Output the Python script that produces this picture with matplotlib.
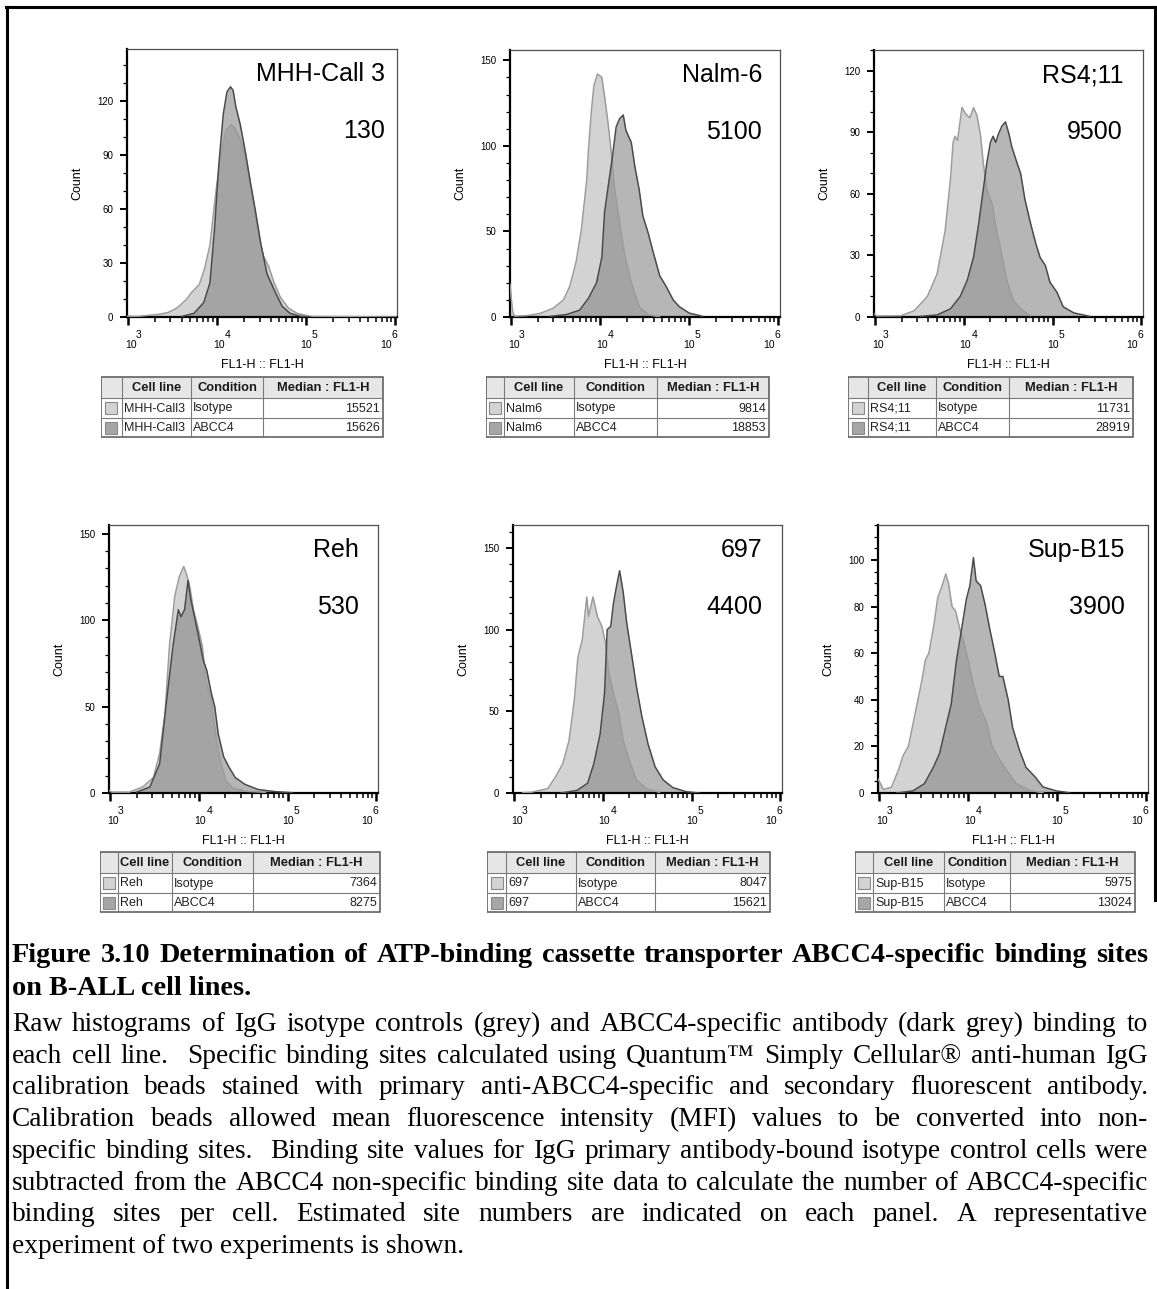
import numpy as np
import matplotlib
matplotlib.use("Agg")
import matplotlib.pyplot as plt
from matplotlib.lines import Line2D
from matplotlib.patches import Rectangle
from matplotlib.transforms import offset_copy
from matplotlib.ticker import FixedLocator, LogLocator, MultipleLocator, NullFormatter

W, H = 1157, 1289
plt.rcParams['font.family'] = ['Liberation Sans', 'DejaVu Sans']

# cell lines, estimated site numbers and FlowJo medians
cell_lines = ["MHH-Call 3", "Nalm-6", "RS4;11", "Reh", "697", "Sup-B15"]
site_numbers = ["130", "5100", "9500", "530", "4400", "3900"]
table_names = ["MHH-Call3", "Nalm6", "RS4;11", "Reh", "697", "Sup-B15"]
median_isotype = [15521, 9814, 11731, 7364, 8047, 5975]
median_abcc4 = [15626, 18853, 28919, 8275, 15621, 13024]
count_ticks = [[0, 30, 60, 90, 120], [0, 50, 100, 150], [0, 30, 60, 90, 120],
               [0, 50, 100, 150], [0, 50, 100, 150], [0, 20, 40, 60, 80, 100]]
count_max = [149, 156, 130, 155, 164, 115]
decades = [3, 4, 5, 6]

# histograms: log10(FL1-H) and counts, isotype then ABCC4
mhh_iso_log = [2.99, 3.10, 3.25, 3.35, 3.45, 3.55, 3.66, 3.72, 3.80, 3.86, 3.92, 3.96, 4.00, 4.05, 4.10, 4.16,
               4.20, 4.25, 4.30, 4.35, 4.41, 4.47, 4.52, 4.58, 4.64, 4.71, 4.80, 4.90, 5.05, 6.02]
mhh_iso_cnt = [0.5, 0.3, 1.0, 1.5, 2.5, 5, 10, 14, 18, 27, 40, 58, 75, 92, 104, 107,
               105, 100, 92, 80, 63, 44, 34, 28, 19, 11, 5, 2, 0.3, 0]
mhh_abc_log = [3.60, 3.74, 3.85, 3.92, 3.97, 4.02, 4.07, 4.11, 4.15, 4.18, 4.21, 4.26, 4.32, 4.37, 4.43,
               4.49, 4.56, 4.66, 4.73, 4.82, 4.94, 5.05]
mhh_abc_cnt = [0.3, 2, 8, 19, 48, 85, 113, 125, 128, 126, 117, 107, 91, 76, 59,
               41, 24, 13, 6, 2, 0.4, 0]

nalm_iso_log = [2.99, 3.005, 3.02, 3.04, 3.18, 3.32, 3.47, 3.59, 3.66, 3.73, 3.79, 3.85, 3.87, 3.90, 3.93,
                3.97, 4.02, 4.05, 4.09, 4.13, 4.16, 4.22, 4.28, 4.35, 4.44, 4.54, 4.67]
nalm_iso_cnt = [19, 10, 3, 0.5, 0.8, 2, 5, 10, 18, 32, 51, 80, 98, 119, 135,
                142, 140, 129, 113, 94, 76, 55, 35, 20, 6, 1.4, 0]
nalm_abc_log = [3.44, 3.62, 3.77, 3.87, 3.96, 4.02, 4.05, 4.09, 4.14, 4.18, 4.22, 4.26, 4.29, 4.35, 4.39,
                4.44, 4.48, 4.54, 4.59, 4.67, 4.74, 4.82, 4.89, 5.00, 5.15]
nalm_abc_cnt = [0.4, 1.4, 4, 11, 20, 35, 61, 76, 94, 111, 116, 118, 109, 102, 88,
                74, 59, 49, 39, 24, 18, 10, 6, 2.3, 0.4]

rs4_iso_log = [2.99, 3.02, 3.29, 3.44, 3.59, 3.70, 3.79, 3.85, 3.88, 3.90, 3.93, 3.98, 4.02, 4.07, 4.11,
               4.15, 4.19, 4.22, 4.26, 4.32, 4.37, 4.43, 4.49, 4.56, 4.64, 4.75]
rs4_iso_cnt = [1.5, 0.5, 0.6, 3, 10, 21, 42, 67, 85, 88, 86, 102, 99, 97, 102,
               98, 88, 75, 62, 55, 42, 30, 17, 8, 4, 0.6]
rs4_abc_log = [3.51, 3.70, 3.85, 3.96, 4.04, 4.11, 4.17, 4.22, 4.26, 4.30, 4.33, 4.36, 4.39, 4.43, 4.47,
               4.51, 4.54, 4.60, 4.64, 4.69, 4.75, 4.81, 4.86, 4.92, 4.97, 5.05, 5.12, 5.24, 5.42]
rs4_abc_cnt = [0.3, 1, 4, 10, 18, 29, 46, 62, 75, 85, 88, 85, 89, 93, 95,
               89, 83, 75, 70, 57, 46, 36, 29, 25, 17, 12, 5, 2, 0.3]

reh_iso_log = [2.99, 3.02, 3.22, 3.37, 3.49, 3.56, 3.62, 3.67, 3.73, 3.78, 3.83, 3.86, 3.90, 3.94, 3.99,
               4.04, 4.08, 4.14, 4.19, 4.25, 4.31, 4.38, 4.53, 4.75]
reh_iso_cnt = [1.5, 0.5, 0.5, 3.5, 9, 23, 46, 85, 114, 125, 131, 127, 119, 106, 96,
               85, 65, 54, 34, 17, 7, 3, 1, 0.4]
reh_abc_log = [3.30, 3.45, 3.56, 3.63, 3.71, 3.77, 3.80, 3.84, 3.88, 3.91, 3.96, 4.00, 4.05, 4.09, 4.14,
               4.18, 4.22, 4.28, 4.34, 4.41, 4.52, 4.67, 4.86, 5.05]
reh_abc_cnt = [0.5, 3.5, 17, 50, 85, 106, 102, 106, 123, 112, 100, 90, 77, 71, 58,
               50, 34, 21, 15, 9, 5, 2, 0.8, 0.2]

c697_iso_log = [3.10, 3.19, 3.38, 3.47, 3.55, 3.62, 3.68, 3.72, 3.77, 3.82, 3.84, 3.89, 3.94, 3.99, 4.03,
                4.07, 4.12, 4.18, 4.23, 4.31, 4.38, 4.49, 4.64]
c697_iso_cnt = [0.2, 0.4, 2.7, 10, 18, 32, 57, 83, 94, 120, 108, 120, 108, 102, 92,
                73, 61, 49, 32, 18, 8, 2.7, 0.4]
c697_abc_log = [3.53, 3.71, 3.83, 3.90, 3.97, 4.02, 4.05, 4.09, 4.12, 4.16, 4.19, 4.23, 4.27, 4.33, 4.38,
                4.44, 4.51, 4.59, 4.68, 4.79, 4.94, 5.09]
c697_abc_cnt = [0, 1.6, 6, 18, 36, 61, 100, 102, 116, 128, 136, 123, 104, 83, 65,
                47, 30, 16, 8, 3.3, 0.8, 0]

supb_iso_log = [2.99, 3.05, 3.14, 3.22, 3.27, 3.33, 3.40, 3.48, 3.52, 3.56, 3.62, 3.66, 3.70, 3.75, 3.78,
                3.82, 3.86, 3.91, 3.95, 4.00, 4.06, 4.13, 4.21, 4.26, 4.34, 4.43, 4.54, 4.69, 4.84]
supb_iso_cnt = [6, 1.5, 2.5, 10, 16, 20, 33, 48, 57, 60, 73, 84, 88, 94, 90,
                80, 78, 70, 65, 57, 46, 37, 30, 21, 15, 10, 4, 1.1, 0.1]
supb_abc_log = [3.20, 3.38, 3.51, 3.61, 3.68, 3.76, 3.81, 3.87, 3.93, 3.98, 4.02, 4.06, 4.09, 4.14, 4.19,
                4.24, 4.30, 4.35, 4.39, 4.45, 4.50, 4.58, 4.65, 4.75, 4.84, 4.99, 5.14]
supb_abc_cnt = [0, 0.9, 4, 11, 17, 30, 38, 57, 71, 83, 89, 101, 91, 89, 81,
                71, 60, 50, 50, 40, 28, 18, 11, 7, 2.6, 0.9, 0.1]

isotype = [(mhh_iso_log, mhh_iso_cnt), (nalm_iso_log, nalm_iso_cnt), (rs4_iso_log, rs4_iso_cnt),
           (reh_iso_log, reh_iso_cnt), (c697_iso_log, c697_iso_cnt), (supb_iso_log, supb_iso_cnt)]
abcc4 = [(mhh_abc_log, mhh_abc_cnt), (nalm_abc_log, nalm_abc_cnt), (rs4_abc_log, rs4_abc_cnt),
         (reh_abc_log, reh_abc_cnt), (c697_abc_log, c697_abc_cnt), (supb_abc_log, supb_abc_cnt)]

# pixel boxes (left, top, right, bottom) of each histogram
boxes = [(127, 49, 397, 317), (510, 50, 780, 317), (874, 50, 1143, 317),
         (109, 525, 378, 793), (513, 525, 782, 793), (878, 525, 1148, 793)]
label_inset = [12, 18, 20, 19, 20, 23]
minor_step = [10, 10, 10, 10, 10, 5]
# horizontal pixel shift of "10" and of its exponent for each decade label
base_dx = [3, 1.5, 0, -9]
exp_dx = [11, 10.5, 8.5, -1]
table_cols = [[101, 122, 191, 263, 383], [486, 504, 574, 657, 769], [848, 868, 936, 1009, 1133],
              [100, 118, 172, 253, 380], [487, 506, 576, 655, 770], [855, 873, 944, 1010, 1135]]

ISO_FILL, ISO_EDGE = '#d3d3d3', '#9c9c9c'
ABC_FILL, ABC_EDGE = '#868686', '#4a4a4a'

fig = plt.figure(figsize=(W / 100, H / 100), dpi=100)


def px_axes(l, t, r, b):
    return fig.add_axes([l / W, 1 - b / H, (r - l) / W, (b - t) / H])


def draw_hist(i):
    l, t, r, b = boxes[i]
    ax = px_axes(l, t, r, b)
    xi, yi = isotype[i]
    xa, ya = abcc4[i]
    xi = 10 ** np.array(xi)
    xa = 10 ** np.array(xa)
    ax.fill_between(xi, yi, 0, color=ISO_FILL, lw=0, zorder=1)
    ax.fill_between(xa, ya, 0, color=ABC_FILL, alpha=0.6, lw=0, zorder=2)
    ax.plot(xi, yi, color=ISO_EDGE, lw=1.1, zorder=3)
    ax.plot(xa, ya, color=ABC_EDGE, lw=1.1, zorder=4)

    ax.set_xscale('log')
    ax.set_xlim(10 ** 2.989, 10 ** 6.019)
    ax.set_ylim(0, count_max[i])
    ax.xaxis.set_major_locator(FixedLocator([10.0 ** d for d in decades]))
    ax.xaxis.set_major_formatter(NullFormatter())
    ax.xaxis.set_minor_locator(LogLocator(base=10, subs=np.arange(2, 10), numticks=20))
    ax.xaxis.set_minor_formatter(NullFormatter())
    ax.yaxis.set_major_locator(FixedLocator(count_ticks[i]))
    ax.yaxis.set_minor_locator(MultipleLocator(minor_step[i]))
    ax.tick_params(axis='x', which='major', length=6, width=1.8)
    ax.tick_params(axis='x', which='minor', length=3.5, width=1.1)
    ax.tick_params(axis='y', which='major', length=5, width=1.4, labelsize=7, pad=5)
    ax.tick_params(axis='y', which='minor', length=3, width=0.9)
    for side in ('left', 'bottom'):
        ax.spines[side].set_linewidth(1.6)
        ax.spines[side].set_color('black')
    for side in ('top', 'right'):
        ax.spines[side].set_linewidth(0.9)
        ax.spines[side].set_color('#505050')

    # decade labels with a full-size raised exponent
    xt = ax.get_xaxis_transform()
    for k, d in enumerate(decades):
        ax.text(10.0 ** d, 0, '10', fontsize=7.5, ha='center', va='center',
                transform=offset_copy(xt, fig=fig, x=base_dx[k], y=-28, units='dots'))
        ax.text(10.0 ** d, 0, str(d), fontsize=7.5, ha='center', va='center',
                transform=offset_copy(xt, fig=fig, x=exp_dx[k], y=-18, units='dots'))

    ax.set_ylabel('Count', fontsize=9)
    ax.yaxis.set_label_coords(-44 / (r - l), 0.5)
    ax.text(0.5, -48 / (b - t), 'FL1-H :: FL1-H', transform=ax.transAxes,
            ha='center', va='center', fontsize=9)

    x_right = 1 - label_inset[i] / (r - l)
    ax.text(x_right, 1 - 25 / (b - t), cell_lines[i], transform=ax.transAxes,
            ha='right', va='center', fontsize=18)
    ax.text(x_right, 1 - 82 / (b - t), site_numbers[i], transform=ax.transAxes,
            ha='right', va='center', fontsize=18)


def draw_table(i, top):
    cols = table_cols[i]
    rows = [top, top + 21, top + 41, top + 60]
    left, right, bottom = cols[0], cols[-1], rows[-1]
    ax = px_axes(left, top - 1, right + 1, bottom + 1)
    ax.set_xlim(left, right + 1)
    ax.set_ylim(bottom + 1, top - 1)
    ax.axis('off')
    ax.add_patch(Rectangle((left, rows[0]), right - left, rows[1] - rows[0],
                           facecolor='#e6e6e6', edgecolor='none'))
    for y in rows[1:-1]:
        ax.plot([left, right], [y, y], color='#7a7a7a', lw=0.8)
    for x in cols[1:-1]:
        ax.plot([x, x], [rows[0], bottom], color='#7a7a7a', lw=0.8)
    ax.add_patch(Rectangle((left, top), right - left, bottom - top,
                           facecolor='none', edgecolor='#555555', lw=1.1))
    header = ['Cell line', 'Condition', 'Median : FL1-H']
    for j, txt in enumerate(header):
        ax.text((cols[j + 1] + cols[j + 2]) / 2, (rows[0] + rows[1]) / 2 + 0.5, txt,
                ha='center', va='center', fontsize=9.3, fontweight='bold', color='#1a1a1a')
    body = [(ISO_FILL, 'Isotype', median_isotype[i]), ('#a6a6a6', 'ABCC4', median_abcc4[i])]
    for k, (swatch, cond, med) in enumerate(body):
        yc = (rows[k + 1] + rows[k + 2]) / 2
        cx = (cols[0] + cols[1]) / 2
        ax.add_patch(Rectangle((cx - 6, yc - 6), 12, 12, facecolor=swatch, edgecolor='#8a8a8a', lw=0.8))
        ax.text(cols[1] + 2, yc + 0.5, table_names[i], ha='left', va='center', fontsize=9, color='#222222')
        ax.text(cols[2] + 2, yc + 0.5, cond, ha='left', va='center', fontsize=9, color='#222222')
        ax.text(cols[4] - 3, yc + 0.5, str(med), ha='right', va='center', fontsize=9, color='#222222')


for i in range(6):
    draw_hist(i)
    draw_table(i, 377 if i < 3 else 852)

# page frame
fig.add_artist(Line2D([7 / W, 7 / W], [0, 1 - 7 / H], transform=fig.transFigure, color='black', lw=2.2))
fig.add_artist(Line2D([6 / W, 1155 / W], [1 - 7 / H, 1 - 7 / H], transform=fig.transFigure, color='black', lw=2.2))
fig.add_artist(Line2D([1155 / W, 1155 / W], [1 - 7 / H, 1 - 900 / H], transform=fig.transFigure, color='black', lw=2.2))

# caption
title_lines = ["Figure 3.10 Determination of ATP-binding cassette transporter ABCC4-specific binding sites",
               "on B-ALL cell lines."]
body_lines = ["Raw histograms of IgG isotype controls (grey) and ABCC4-specific antibody (dark grey) binding to",
              "each cell line.  Specific binding sites calculated using Quantum\u2122 Simply Cellular\u00ae anti-human IgG",
              "calibration beads stained with primary anti-ABCC4-specific and secondary fluorescent antibody.",
              "Calibration beads allowed mean fluorescence intensity (MFI) values to be converted into non-",
              "specific binding sites.  Binding site values for IgG primary antibody-bound isotype control cells were",
              "subtracted from the ABCC4 non-specific binding site data to calculate the number of ABCC4-specific",
              "binding sites per cell. Estimated site numbers are indicated on each panel. A representative",
              "experiment of two experiments is shown."]

renderer = fig.canvas.get_renderer()
SERIF = ['Liberation Serif', 'DejaVu Serif']
X0, X1 = 12, 1148


def text_width(s, size, weight):
    t = fig.text(0, 0, s, fontsize=size, fontweight=weight, family=SERIF)
    w = t.get_window_extent(renderer).width
    t.remove()
    return w


def fit_size(lines, weight):
    w10 = max(text_width(s, 10, weight) for s in lines)
    return 10 * (X1 - X0) / w10 * 0.985


def caption_line(s, y_base, size, weight, justify):
    yf = 1 - y_base / H
    if not justify:
        fig.text(X0 / W, yf, s, fontsize=size, fontweight=weight, family=SERIF, va='baseline')
        return
    words = s.split(' ')
    widths = [text_width(w, size, weight) if w else 0 for w in words]
    gap = (X1 - X0 - sum(widths)) / (len(words) - 1)
    x = X0
    for w, wd in zip(words, widths):
        if w:
            fig.text(x / W, yf, w, fontsize=size, fontweight=weight, family=SERIF, va='baseline')
        x += wd + gap


title_size = fit_size(title_lines[:1], 'bold')
body_size = fit_size(body_lines[:-1], 'normal')
caption_line(title_lines[0], 962, title_size, 'bold', True)
caption_line(title_lines[1], 995, title_size, 'bold', False)
for k, s in enumerate(body_lines):
    caption_line(s, 1031 + 31.7 * k, body_size, 'normal', k < len(body_lines) - 1)

fig.savefig('out.png', dpi=100)
